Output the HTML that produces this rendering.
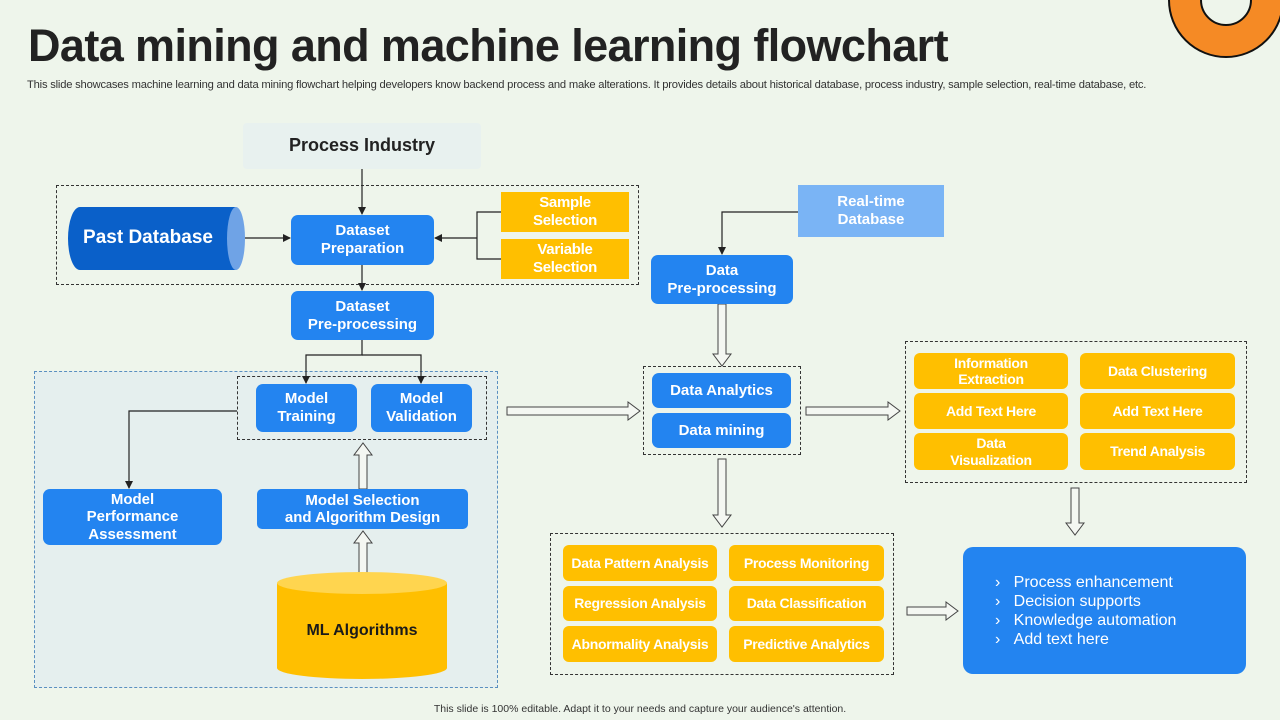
<!DOCTYPE html>
<html><head><meta charset="utf-8"><style>
body{margin:0;width:1280px;height:720px;background:#eef5eb;position:relative;overflow:hidden;font-family:"Liberation Sans",sans-serif}
.a{position:absolute;box-sizing:border-box;display:flex;align-items:center;justify-content:center;text-align:center;color:#fff;font-weight:bold;line-height:1.2}
.b{background:#2384f0;border-radius:7px;font-size:15px}
.y{background:#ffbf00;border-radius:6px;font-size:14px;letter-spacing:-0.3px}
.d{position:absolute;border:1px dashed #333;box-sizing:border-box}
</style></head><body>
<div style="position:absolute;left:28px;top:20px;font-size:45px;font-weight:bold;color:#222;letter-spacing:-0.6px">Data mining and machine learning flowchart</div>
<div style="position:absolute;left:27px;top:79px;font-size:11.2px;color:#333;letter-spacing:-0.2px;white-space:nowrap">This slide showcases machine learning and data mining flowchart helping developers know backend process and make alterations. It provides details about historical database, process industry, sample selection, real-time database, etc.</div>
<svg style="position:absolute;left:0;top:0" width="1280" height="720">
<circle cx="1226" cy="0" r="41" fill="none" stroke="#111" stroke-width="34"/>
<circle cx="1226" cy="0" r="41" fill="none" stroke="#f58a25" stroke-width="30"/>
</svg>
<div class="a" style="left:243px;top:123px;width:238px;height:46px;background:#e8f1ef;color:#222;font-size:18px;border-radius:4px">Process Industry</div>
<div class="d" style="left:56px;top:185px;width:583px;height:100px"></div>
<div style="position:absolute;left:34px;top:371px;width:464px;height:317px;background:#e5efee;border:1px dashed #5a8fc0;box-sizing:border-box"></div>
<div class="d" style="left:237px;top:376px;width:250px;height:64px"></div>
<div class="d" style="left:643px;top:366px;width:158px;height:89px"></div>
<div class="d" style="left:905px;top:341px;width:342px;height:142px"></div>
<div class="d" style="left:550px;top:533px;width:344px;height:142px"></div>
<svg style="position:absolute;left:0;top:0" width="1280" height="720">
<defs><marker id="m" markerWidth="8" markerHeight="8" refX="7" refY="4" orient="auto" markerUnits="userSpaceOnUse"><path d="M0,0 L8,4 L0,8 z" fill="#222"/></marker></defs>
<g fill="none" stroke="#222" stroke-width="1.2">
<path d="M362,169 V214" marker-end="url(#m)"/>
<path d="M245,238 H290" marker-end="url(#m)"/>
<path d="M501,212 H477 V259 H501 M477,238 H435" marker-end="url(#m)"/>
<path d="M362,265 V290" marker-end="url(#m)"/>
<path d="M362,340 V355 H306 V383" marker-end="url(#m)"/>
<path d="M362,355 H421 V383" marker-end="url(#m)"/>
<path d="M237,411 H129 V488" marker-end="url(#m)"/>
<path d="M798,212 H722 V254" marker-end="url(#m)"/>
</g>
<g fill="#f4f7f2" stroke="#444" stroke-width="1">
<polygon points="507,407 628,407 628,402 640,411 628,420 628,415 507,415"/>
<polygon points="806,407 888,407 888,402 900,411 888,420 888,415 806,415"/>
<polygon points="907,607 946,607 946,602 958,611 946,620 946,615 907,615"/>
<polygon points="718,304 718,354 713,354 722,366 731,354 726,354 726,304"/>
<polygon points="718,459 718,515 713,515 722,527 731,515 726,515 726,459"/>
<polygon points="1071,488 1071,523 1066,523 1075,535 1084,523 1079,523 1079,488"/>
<polygon points="359,489 359,455 354,455 363,443 372,455 367,455 367,489"/>
<polygon points="359,573 359,543 354,543 363,531 372,543 367,543 367,573"/>
</g>
<path d="M80,207 H236 V270 H80 A12,31.5 0 0 1 80,207 z" fill="#0a60c9"/>
<ellipse cx="236" cy="238.5" rx="9" ry="31.5" fill="#6fa3e6"/>
<path d="M277,583 V668 A85,11 0 0 0 447,668 V583 z" fill="#ffbf00"/>
<ellipse cx="362" cy="583" rx="85" ry="11" fill="#ffd54f"/>
</svg>
<div class="a" style="left:68px;top:207px;width:160px;height:63px;font-size:19px">Past Database</div>
<div class="a" style="left:277px;top:595px;width:170px;height:72px;font-size:16px;color:#1a1a1a">ML Algorithms</div>
<div class="a b" style="left:291px;top:215px;width:143px;height:50px">Dataset<br>Preparation</div>
<div class="a y" style="left:501px;top:192px;width:128px;height:40px;border-radius:0;font-size:15px">Sample<br>Selection</div>
<div class="a y" style="left:501px;top:239px;width:128px;height:40px;border-radius:0;font-size:15px">Variable<br>Selection</div>
<div class="a b" style="left:291px;top:291px;width:143px;height:49px">Dataset<br>Pre-processing</div>
<div class="a b" style="left:256px;top:384px;width:101px;height:48px">Model<br>Training</div>
<div class="a b" style="left:371px;top:384px;width:101px;height:48px">Model<br>Validation</div>
<div class="a b" style="left:43px;top:489px;width:179px;height:56px;line-height:1.15">Model<br>Performance<br>Assessment</div>
<div class="a b" style="left:257px;top:489px;width:211px;height:40px;border-radius:5px;line-height:1.15">Model Selection<br>and Algorithm Design</div>
<div class="a" style="left:798px;top:185px;width:146px;height:52px;background:#7ab4f5;font-size:15px">Real-time<br>Database</div>
<div class="a b" style="left:651px;top:255px;width:142px;height:49px">Data<br>Pre-processing</div>
<div class="a b" style="left:652px;top:373px;width:139px;height:35px">Data Analytics</div>
<div class="a b" style="left:652px;top:413px;width:139px;height:35px">Data mining</div>
<div class="a y" style="left:914px;top:353px;width:154px;height:36px;line-height:1.15">Information<br>Extraction</div>
<div class="a y" style="left:1080px;top:353px;width:155px;height:36px">Data Clustering</div>
<div class="a y" style="left:914px;top:393px;width:154px;height:36px">Add Text Here</div>
<div class="a y" style="left:1080px;top:393px;width:155px;height:36px">Add Text Here</div>
<div class="a y" style="left:914px;top:433px;width:154px;height:37px;line-height:1.15">Data<br>Visualization</div>
<div class="a y" style="left:1080px;top:433px;width:155px;height:37px">Trend Analysis</div>
<div class="a y" style="left:563px;top:545px;width:154px;height:36px">Data Pattern Analysis</div>
<div class="a y" style="left:729px;top:545px;width:155px;height:36px">Process Monitoring</div>
<div class="a y" style="left:563px;top:586px;width:154px;height:35px">Regression Analysis</div>
<div class="a y" style="left:729px;top:586px;width:155px;height:35px">Data Classification</div>
<div class="a y" style="left:563px;top:626px;width:154px;height:36px">Abnormality Analysis</div>
<div class="a y" style="left:729px;top:626px;width:155px;height:36px">Predictive Analytics</div>
<div style="position:absolute;left:963px;top:547px;width:283px;height:127px;background:#2384f0;border-radius:10px"></div>
<div style="position:absolute;left:995px;top:573px;color:#fff;font-size:16px;line-height:19px">
<div>›&nbsp;&nbsp;&nbsp;Process enhancement</div><div>›&nbsp;&nbsp;&nbsp;Decision supports</div><div>›&nbsp;&nbsp;&nbsp;Knowledge automation</div><div>›&nbsp;&nbsp;&nbsp;Add text here</div></div>
<div style="position:absolute;left:0;width:1280px;top:703px;text-align:center;font-size:10.5px;color:#333">This slide is 100% editable. Adapt it to your needs and capture your audience's attention.</div>
</body></html>
